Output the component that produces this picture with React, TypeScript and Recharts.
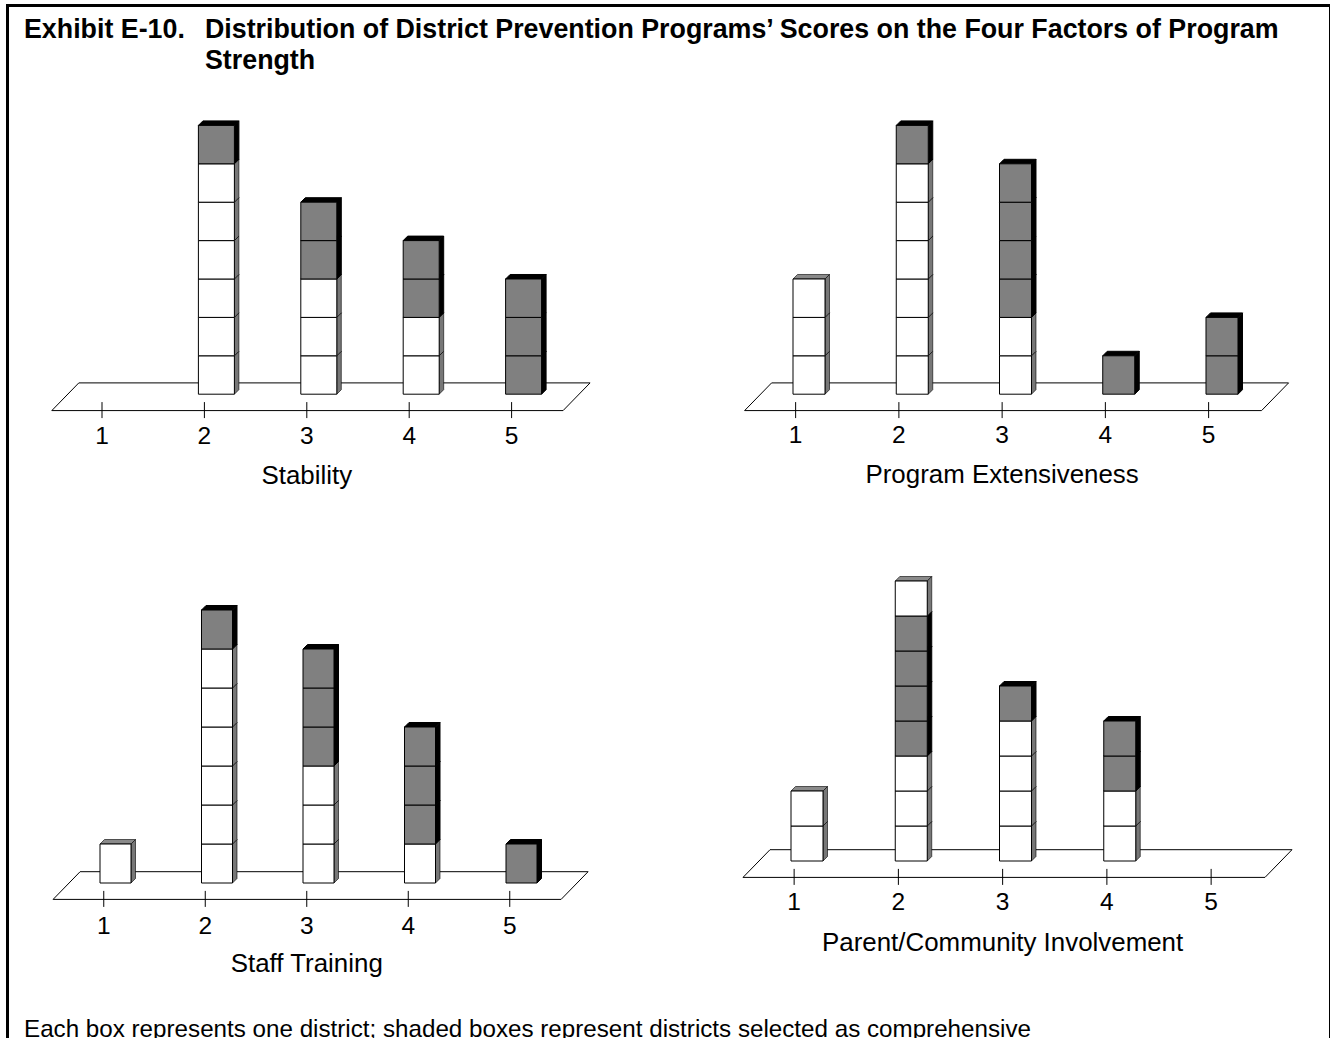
import React from "react";
import { BarChart, Bar, XAxis, YAxis } from "recharts";

const FONT = '"Liberation Sans", Arial, sans-serif';

const scores = ["1", "2", "3", "4", "5"];

const stabilityPlain = [0, 6, 3, 2, 0];
const stabilityShaded = [0, 1, 2, 2, 3];

const extensivenessPlain = [3, 6, 2, 0, 0];
const extensivenessShaded = [0, 1, 4, 1, 2];

const trainingPlain = [1, 6, 3, 1, 0];
const trainingShaded = [0, 1, 3, 3, 1];

const involvementPlain = [2, 3, 4, 2, 0];
const involvementShaded = [0, 4, 1, 2, 0];
const involvementUpper = [0, 1, 0, 0, 0];

const noBoxes = [0, 0, 0, 0, 0];

const MAX_BOXES = 8;
const DEPTH = 4.5;
const MARGIN_TOP = 10;
const AXIS_HEIGHT = 100;

const TONES: Record<string, { face: string; top: string; side: string; edge: number }> = {
  plain: { face: "#ffffff", top: "#8a8a8a", side: "#777777", edge: 0.6 },
  shaded: { face: "#808080", top: "#000000", side: "#000000", edge: 1 },
};

// draws a bar as a pile of single boxes, one per district
function BoxPile(props: any) {
  const { x, y, width, height, count, tone } = props;
  if (!count) return null;
  const colors = TONES[tone];
  const boxH = height / count;
  const boxes = [];
  for (let i = count - 1; i >= 0; i--) {
    const by = y + i * boxH;
    boxes.push(
      <g key={i} stroke="#000" strokeLinejoin="round">
        <polygon
          points={`${x},${by} ${x + DEPTH},${by - DEPTH} ${x + width + DEPTH},${by - DEPTH} ${x + width},${by}`}
          fill={colors.top}
          strokeWidth={colors.edge}
        />
        <polygon
          points={`${x + width},${by} ${x + width + DEPTH},${by - DEPTH} ${x + width + DEPTH},${by + boxH - DEPTH} ${x + width},${by + boxH}`}
          fill={colors.side}
          strokeWidth={colors.edge}
        />
        <rect x={x} y={by} width={width} height={boxH} fill={colors.face} strokeWidth={1} />
      </g>
    );
  }
  return <g>{boxes}</g>;
}

function ScoreTick(props: any) {
  const { x, y, payload, shift, floorDrop, labelDrop } = props;
  const tx = x - shift;
  const axisY = y - 6 + floorDrop;
  return (
    <g>
      <line x1={tx} x2={tx} y1={axisY - 8.5} y2={axisY + 7.5} stroke="#000" strokeWidth={1} />
      <text x={tx} y={axisY + labelDrop} textAnchor="middle" fontFamily={FONT} fontSize={24.5} fill="#000">
        {payload.value}
      </text>
    </g>
  );
}

interface PanelProps {
  caption: string;
  plain: number[];
  shaded: number[];
  upper?: number[];
  plotLeft: number;
  baseline: number;
  band: number;
  boxHeight: number;
  barWidth: number;
  tickShift: number;
  floorLeft: number;
  floorRight: number;
  floorDrop: number;
  floorRise: number;
  floorSkew: number;
  labelDrop: number;
  captionDrop: number;
}

function FactorPanel({
  caption,
  plain,
  shaded,
  upper = noBoxes,
  plotLeft,
  baseline,
  band,
  boxHeight,
  barWidth,
  tickShift,
  floorLeft,
  floorRight,
  floorDrop,
  floorRise,
  floorSkew,
  labelDrop,
  captionDrop,
}: PanelProps) {
  const table = scores.map((score, i) => ({
    score,
    plain: plain[i],
    shaded: shaded[i],
    upper: upper[i],
  }));
  const plotHeight = MAX_BOXES * boxHeight;
  const chartLeft = plotLeft - 40;
  const chartTop = baseline - plotHeight - MARGIN_TOP;
  const chartWidth = 5 * band + 80;
  const chartHeight = MARGIN_TOP + plotHeight + AXIS_HEIGHT;
  const base = MARGIN_TOP + plotHeight;
  const fl = floorLeft - chartLeft;
  const fr = floorRight - chartLeft;
  const front = base + floorDrop;
  const back = base - floorRise;
  return (
    <div style={{ position: "absolute", left: chartLeft, top: chartTop }}>
      <BarChart
        width={chartWidth}
        height={chartHeight}
        data={table}
        barSize={barWidth}
        margin={{ top: MARGIN_TOP, right: 40, bottom: 0, left: 40 }}
      >
        <path
          d={`M${fl},${front} L${fr},${front} L${fr + floorSkew},${back} L${fl + floorSkew},${back} Z`}
          fill="none"
          stroke="#000"
          strokeWidth={1}
        />
        <XAxis
          dataKey="score"
          height={AXIS_HEIGHT}
          axisLine={false}
          tickLine={false}
          interval={0}
          tickMargin={0}
          tick={<ScoreTick shift={tickShift} floorDrop={floorDrop} labelDrop={labelDrop} />}
        />
        <YAxis hide domain={[0, MAX_BOXES]} />
        <Bar
          dataKey="plain"
          stackId="pile"
          isAnimationActive={false}
          shape={(p: any) => <BoxPile {...p} count={p.payload.plain} tone="plain" />}
        />
        <Bar
          dataKey="shaded"
          stackId="pile"
          isAnimationActive={false}
          shape={(p: any) => <BoxPile {...p} count={p.payload.shaded} tone="shaded" />}
        />
        <Bar
          dataKey="upper"
          stackId="pile"
          isAnimationActive={false}
          shape={(p: any) => <BoxPile {...p} count={p.payload.upper} tone="plain" />}
        />
        <text
          x={40 + 2.5 * band - tickShift}
          y={base + captionDrop}
          textAnchor="middle"
          fontFamily={FONT}
          fontSize={25.9}
          fill="#000"
        >
          {caption}
        </text>
      </BarChart>
    </div>
  );
}

const textBase: React.CSSProperties = {
  position: "absolute",
  fontFamily: FONT,
  color: "#000",
  whiteSpace: "nowrap",
};

export default function App() {
  return (
    <div
      style={{
        position: "absolute",
        left: 0,
        top: 0,
        width: 1330,
        height: 1038,
        overflow: "hidden",
        background: "#fff",
      }}
    >
      <div
        style={{
          position: "absolute",
          left: 6,
          top: 4,
          width: 1324,
          height: 1100,
          border: "3px solid #000",
          borderRightWidth: 1.5,
          boxSizing: "border-box",
        }}
      />
      <div style={{ ...textBase, left: 24, top: 14, fontSize: 26.8, lineHeight: "31px", fontWeight: "bold" }}>
        Exhibit E-10.
      </div>
      <div style={{ ...textBase, left: 205, top: 14, fontSize: 26.8, lineHeight: "31px", fontWeight: "bold" }}>
        Distribution of District Prevention Programs’ Scores on the Four Factors of Program
        <br />
        Strength
      </div>
      <FactorPanel
        caption="Stability"
        plain={stabilityPlain}
        shaded={stabilityShaded}
        plotLeft={62.9}
        baseline={394.3}
        band={102.4}
        boxHeight={38.4}
        barWidth={36}
        tickShift={12.2}
        floorLeft={51.7}
        floorRight={563}
        floorDrop={16.4}
        floorRise={11.3}
        floorSkew={27}
        labelDrop={33.5}
        captionDrop={90}
      />
      <FactorPanel
        caption="Program Extensiveness"
        plain={extensivenessPlain}
        shaded={extensivenessShaded}
        plotLeft={757.4}
        baseline={394}
        band={103.25}
        boxHeight={38.4}
        barWidth={32}
        tickShift={13}
        floorLeft={745}
        floorRight={1262}
        floorDrop={16.4}
        floorRise={11.3}
        floorSkew={27}
        labelDrop={32.7}
        captionDrop={89}
      />
      <FactorPanel
        caption="Staff Training"
        plain={trainingPlain}
        shaded={trainingShaded}
        plotLeft={64.9}
        baseline={883}
        band={101.5}
        boxHeight={39}
        barWidth={31}
        tickShift={12}
        floorLeft={53}
        floorRight={561}
        floorDrop={16.4}
        floorRise={11.3}
        floorSkew={27}
        labelDrop={34.2}
        captionDrop={89}
      />
      <FactorPanel
        caption="Parent/Community Involvement"
        plain={involvementPlain}
        shaded={involvementShaded}
        upper={involvementUpper}
        plotLeft={755}
        baseline={861}
        band={104.25}
        boxHeight={35}
        barWidth={32}
        tickShift={13}
        floorLeft={743}
        floorRight={1265}
        floorDrop={16.4}
        floorRise={11.3}
        floorSkew={27}
        labelDrop={33}
        captionDrop={90}
      />
      <div style={{ ...textBase, left: 24, top: 1015, fontSize: 24.2, lineHeight: "28px" }}>
        Each box represents one district; shaded boxes represent districts selected as comprehensive
      </div>
    </div>
  );
}
